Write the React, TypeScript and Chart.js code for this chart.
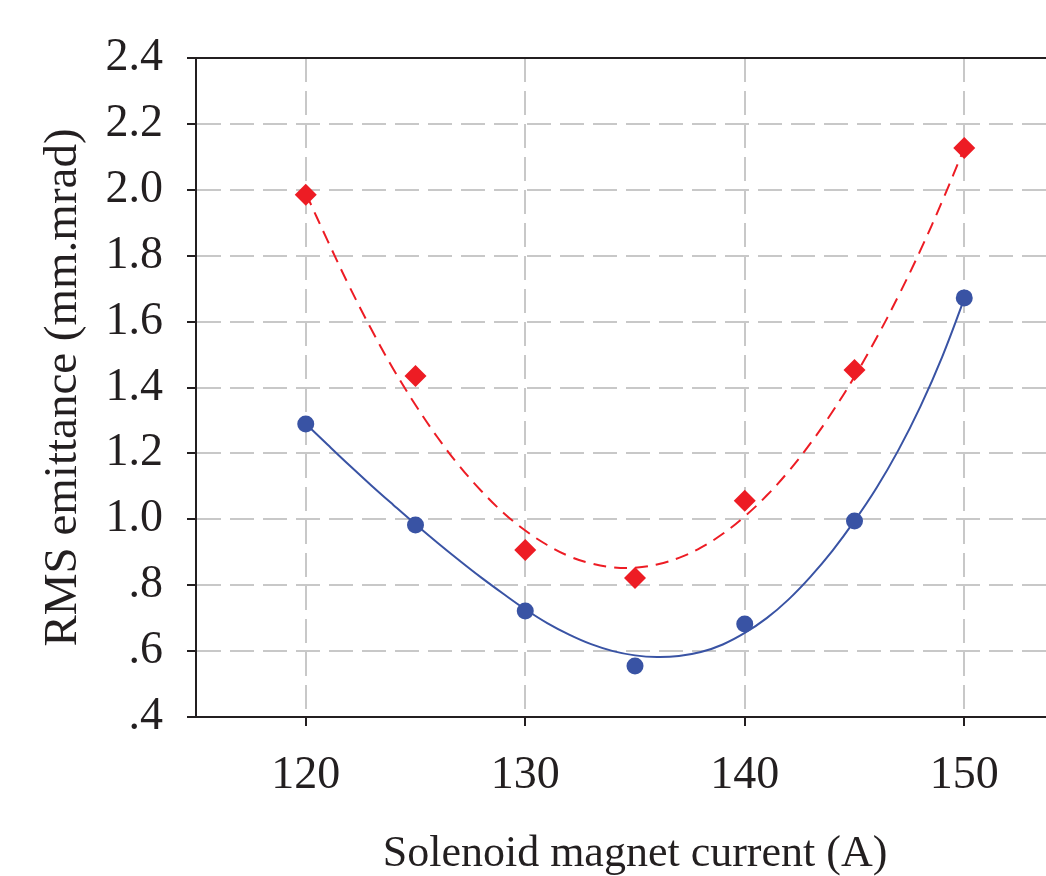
import React, { useEffect, useRef } from "react";
import { Chart, registerables } from "chart.js";

Chart.register(...registerables);

// Measured points
const currents = [120, 125, 130, 135, 140, 145, 150];
const emittanceBlue = [1.289, 0.983, 0.722, 0.555, 0.682, 0.995, 1.672];
const emittanceRed = [1.985, 1.435, 0.907, 0.822, 1.056, 1.453, 2.127];

// Fit curves
const fitCurrents = [
  120, 121, 122, 123, 124, 125, 126, 127, 128, 129, 130, 131, 132, 133, 134, 135,
  136, 137, 138, 139, 140, 141, 142, 143, 144, 145, 146, 147, 148, 149, 150,
];
const fitBlue = [
  1.29, 1.226, 1.163, 1.102, 1.043, 0.985, 0.929, 0.875, 0.823, 0.774, 0.727, 0.685,
  0.65, 0.621, 0.6, 0.587, 0.582, 0.585, 0.597, 0.62, 0.655, 0.7, 0.757, 0.826, 0.905,
  0.995, 1.095, 1.21, 1.342, 1.494, 1.669,
];
const fitRed = [
  1.99, 1.845, 1.705, 1.575, 1.455, 1.347, 1.249, 1.162, 1.086, 1.02, 0.966, 0.922,
  0.888, 0.866, 0.854, 0.853, 0.863, 0.883, 0.914, 0.956, 1.009, 1.072, 1.146, 1.231,
  1.327, 1.433, 1.55, 1.678, 1.816, 1.966, 2.126,
];

const xTicks = [120, 130, 140, 150];
const yTicks = [0.4, 0.6, 0.8, 1.0, 1.2, 1.4, 1.6, 1.8, 2.0, 2.2, 2.4];
const yTickLabels = [".4", ".6", ".8", "1.0", "1.2", "1.4", "1.6", "1.8", "2.0", "2.2", "2.4"];

const xTitle = "Solenoid magnet current (A)";
const yTitle = "RMS emittance (mm.mrad)";

const BLUE = "#3953a4";
const RED = "#ed1c24";
const TEXT = "#231f20";
const FONT = "'Liberation Serif', 'Times New Roman', serif";

const topBorder = {
  id: "topBorder",
  afterDraw(chart: any) {
    const { ctx, chartArea } = chart;
    ctx.save();
    ctx.strokeStyle = TEXT;
    ctx.lineWidth = 2;
    ctx.beginPath();
    ctx.moveTo(chartArea.left, chartArea.top);
    ctx.lineTo(chartArea.right, chartArea.top);
    ctx.stroke();
    ctx.restore();
  },
};

export default function App() {
  const ref = useRef<HTMLCanvasElement | null>(null);

  useEffect(() => {
    const canvas = ref.current;
    if (!canvas) return;
    document.body.style.margin = "0";
    const chart = new Chart(canvas, {
      type: "scatter",
      data: {
        datasets: [
          {
            label: "blue points",
            data: currents.map((x, i) => ({ x, y: emittanceBlue[i] })),
            pointStyle: "circle",
            pointRadius: 8.5,
            pointBackgroundColor: BLUE,
            pointBorderColor: BLUE,
            pointBorderWidth: 0,
            showLine: false,
            order: 1,
          },
          {
            label: "red points",
            data: currents.map((x, i) => ({ x, y: emittanceRed[i] })),
            pointStyle: "rectRot",
            pointRadius: 11,
            pointBackgroundColor: RED,
            pointBorderColor: RED,
            pointBorderWidth: 0,
            showLine: false,
            order: 2,
          },
          {
            label: "blue fit",
            data: fitCurrents.map((x, i) => ({ x, y: fitBlue[i] })),
            showLine: true,
            borderColor: BLUE,
            borderWidth: 2,
            pointRadius: 0,
            tension: 0.4,
            order: 3,
          },
          {
            label: "red fit",
            data: fitCurrents.map((x, i) => ({ x, y: fitRed[i] })),
            showLine: true,
            borderColor: RED,
            borderWidth: 2,
            borderDash: [13, 8],
            pointRadius: 0,
            tension: 0.4,
            order: 4,
          },
        ],
      },
      options: {
        responsive: false,
        animation: false,
        devicePixelRatio: 1,
        layout: { padding: { top: 58, left: 0, right: 4, bottom: 0 } },
        plugins: {
          legend: { display: false },
          tooltip: { enabled: false },
        },
        scales: {
          x: {
            type: "linear",
            min: 115,
            max: 155,
            afterBuildTicks: (scale: any) => {
              scale.ticks = xTicks.map((v) => ({ value: v }));
            },
            afterFit: (scale: any) => {
              scale.height = 159;
            },
            ticks: {
              color: TEXT,
              padding: 22,
              font: { family: FONT, size: 46 },
              maxRotation: 0,
              callback: (v: any) => String(v),
            },
            grid: {
              color: "#c8c8c8",
              lineWidth: 2,
              tickColor: TEXT,
              tickWidth: 2,
              tickLength: 9,
            },
            border: { display: true, color: TEXT, width: 2, dash: [24, 9] },
            title: {
              display: true,
              text: xTitle,
              color: TEXT,
              font: { family: FONT, size: 44, lineHeight: 1 },
              padding: { top: 0, bottom: 0 },
            },
          },
          y: {
            type: "linear",
            min: 0.4,
            max: 2.4,
            afterBuildTicks: (scale: any) => {
              scale.ticks = yTicks.map((v) => ({ value: v }));
            },
            afterFit: (scale: any) => {
              scale.width = 196;
            },
            ticks: {
              color: TEXT,
              padding: 24,
              font: { family: FONT, size: 46 },
              callback: (v: any) => {
                const i = yTicks.findIndex((t) => Math.abs(t - Number(v)) < 1e-6);
                return i >= 0 ? yTickLabels[i] : "";
              },
            },
            grid: {
              color: "#c8c8c8",
              lineWidth: 2,
              tickColor: TEXT,
              tickWidth: 2,
              tickLength: 9,
            },
            border: { display: true, color: TEXT, width: 2, dash: [24, 9] },
            title: {
              display: true,
              text: yTitle,
              color: TEXT,
              font: { family: FONT, size: 47, lineHeight: 1 },
              padding: { top: 40, bottom: 0 },
            },
          },
        },
      },
      plugins: [topBorder],
    });
    return () => chart.destroy();
  }, []);

  return (
    <div
      style={{
        position: "fixed",
        top: 0,
        left: 0,
        width: 1046,
        height: 876,
        overflow: "hidden",
        background: "#fff",
      }}
    >
      <canvas ref={ref} width={1085} height={876} style={{ display: "block" }} />
    </div>
  );
}
